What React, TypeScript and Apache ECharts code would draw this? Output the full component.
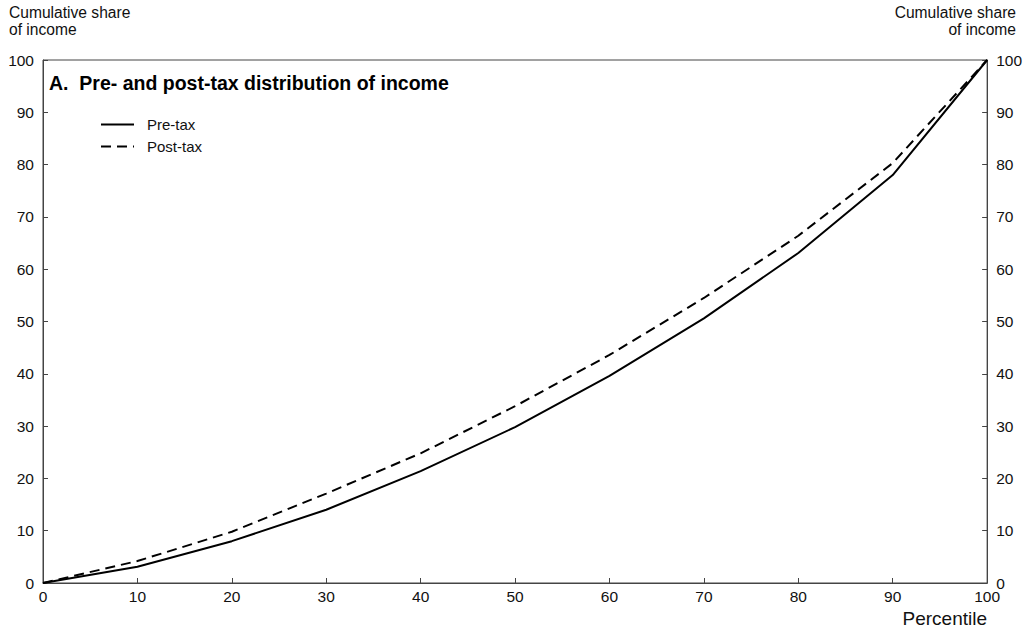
import React, { useEffect, useRef } from "react";
import * as echarts from "echarts";

const percentiles = [0, 10, 20, 30, 40, 50, 60, 70, 80, 90, 100];
const preTax = [0, 3.1, 8.0, 14.0, 21.4, 29.8, 39.6, 50.6, 63.1, 78.0, 100];
const postTax = [0, 4.2, 9.8, 17.1, 24.8, 33.8, 43.6, 54.5, 66.4, 80.3, 100];

const FONT = "Liberation Sans, Arial, sans-serif";

export default function App() {
  const ref = useRef<HTMLDivElement>(null);
  useEffect(() => {
    if (!ref.current) return;
    const chart = echarts.init(ref.current, undefined, { renderer: "svg" });
    const axisLine = { show: true, lineStyle: { color: "#444", width: 1 } };
    const axisTick = { show: true, inside: true, length: 5, lineStyle: { color: "#444" } };
    const label = { color: "#111", fontSize: 15.5, fontFamily: FONT };
    const headStyle = { fontSize: 15.6, fill: "#111", fontFamily: FONT };
    chart.setOption({
      animation: false,
      backgroundColor: "#fff",
      textStyle: { fontFamily: FONT },
      grid: {
        left: 43,
        right: 37,
        top: 60,
        bottom: 51,
        show: true,
        borderColor: "#444",
        borderWidth: 1,
      },
      legend: {
        orient: "vertical",
        left: 95,
        top: 112,
        itemWidth: 33,
        itemHeight: 10,
        itemGap: 7,
        itemStyle: { opacity: 0 },
        textStyle: { fontSize: 15, color: "#111", fontFamily: FONT, padding: [0, 0, 0, 8] },
        data: ["Pre-tax", "Post-tax"],
      },
      xAxis: {
        type: "value",
        min: 0,
        max: 100,
        interval: 10,
        axisLine,
        axisTick,
        splitLine: { show: false },
        axisLabel: { ...label, margin: 5 },
      },
      yAxis: [
        {
          type: "value",
          min: 0,
          max: 100,
          interval: 10,
          position: "left",
          axisLine,
          axisTick,
          splitLine: { show: false },
          axisLabel: { ...label, margin: 9 },
        },
        {
          type: "value",
          min: 0,
          max: 100,
          interval: 10,
          position: "right",
          axisLine,
          axisTick,
          splitLine: { show: false },
          axisLabel: { ...label, margin: 9 },
        },
      ],
      series: [
        {
          name: "Pre-tax",
          type: "line",
          symbol: "none",
          data: percentiles.map((p, i) => [p, preTax[i]]),
          lineStyle: { color: "#000", width: 2, type: "solid" },
          itemStyle: { color: "#000" },
        },
        {
          name: "Post-tax",
          type: "line",
          symbol: "none",
          data: percentiles.map((p, i) => [p, postTax[i]]),
          lineStyle: { color: "#000", width: 2, type: [10, 6] },
          itemStyle: { color: "#000" },
        },
      ],
      graphic: [
        { type: "text", left: 9, top: 4, style: { text: "Cumulative share", ...headStyle } },
        { type: "text", left: 9, top: 21, style: { text: "of income", ...headStyle } },
        { type: "text", right: 9, top: 4, style: { text: "Cumulative share", ...headStyle } },
        { type: "text", right: 9, top: 21, style: { text: "of income", ...headStyle } },
        {
          type: "text",
          left: 49,
          top: 73,
          style: { text: "A.  Pre- and post-tax distribution of income", fontSize: 19.5, fontWeight: "bold", fill: "#000", fontFamily: FONT },
        },
        {
          type: "text",
          right: 38,
          top: 609,
          style: { text: "Percentile", fontSize: 19, fill: "#111", fontFamily: FONT },
        },
      ],
    });
    return () => chart.dispose();
  }, []);
  return <div ref={ref} style={{ position: "fixed", left: 0, top: 0, width: 1025, height: 634 }} />;
}
